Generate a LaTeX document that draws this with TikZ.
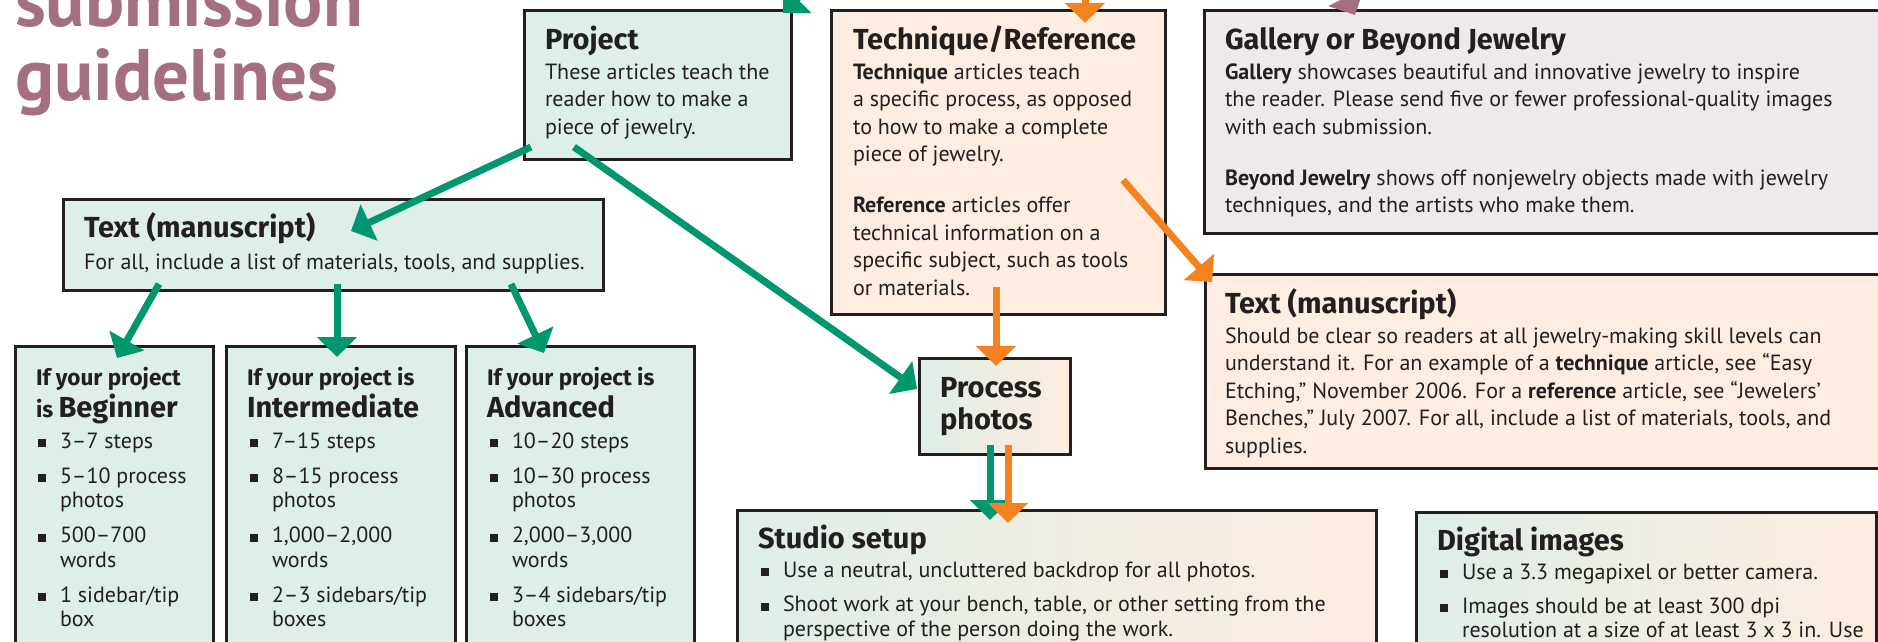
\documentclass[tikz,border=0pt]{standalone}
\usepackage{fontspec}
\setmainfont{PT Sans}
\newfontfamily\hfam{Fira Sans}
\usetikzlibrary{arrows.meta}
\definecolor{grn}{HTML}{009670}
\definecolor{org}{HTML}{F58220}
\definecolor{mauve}{HTML}{A46E83}
\definecolor{grnfill}{HTML}{DEEEE8}
\definecolor{peachfill}{HTML}{FEEDE0}
\definecolor{galfill}{HTML}{EFE9EC}
\definecolor{bordc}{HTML}{231F20}
\newcommand\bodyf{\fontsize{22}{27.5}\selectfont}
\newcommand\listf{\fontsize{22}{24.5}\selectfont}
\newcommand\headf{\fontsize{29}{30}\selectfont\hfam\bfseries}
\newcommand\smallhd{\fontsize{22.5}{24}\selectfont\hfam\bfseries}
\newcommand\bighd{\fontsize{29}{30}\selectfont\hfam\bfseries}
\newcommand\procf{\fontsize{29}{32}\selectfont\hfam\bfseries}
\newcommand\titlef{\fontsize{73}{72}\selectfont\bfseries}
\newcommand\bul{\makebox[0pt][r]{\rule[1pt]{8pt}{8pt}\hspace{14pt}}}
\newcommand\lns[1]{\parbox[t]{800pt}{\raggedright #1}}
\begin{document}
\begin{tikzpicture}[x=1pt,y=-1pt,
  box/.style={draw=bordc, line width=3pt, rectangle, anchor=north west, inner sep=0pt},
  tx/.style={anchor=base west, inner sep=0pt, outer sep=0pt, text=bordc},
  garrow/.style={draw=grn, fill=grn, line width=7pt, -{Triangle[length=20pt,width=39pt]}},
  oarrow/.style={draw=org, fill=org, line width=7pt, -{Triangle[length=20pt,width=39pt]}},
  marrow/.style={draw=mauve, fill=mauve, line width=7pt, -{Triangle[length=20pt,width=39pt]}}]
\useasboundingbox (0,0) rectangle (1878,642);
\clip (0,0) rectangle (1878,642);
\fill[white] (0,0) rectangle (1878,642);

% title
\node[tx, text=mauve, font=\titlef] (t1) at (15,27) {submission};
\node[tx, text=mauve, font=\titlef] (t2) at (15,100) {guidelines};

% boxes
\node[box, fill=grnfill, minimum width=267pt, minimum height=149pt] (proj) at (523,9) {};
\node[box, fill=peachfill, minimum width=334pt, minimum height=304pt] (tech) at (830,9) {};
\node[box, fill=galfill, minimum width=697pt, minimum height=223pt] (gal) at (1203,9) {};
\node[box, fill=peachfill, minimum width=696pt, minimum height=194pt] (rtext) at (1204,273) {};
\node[box, fill=grnfill, minimum width=540pt, minimum height=91pt] (ltext) at (62,198) {};
\node[box, fill=grnfill, minimum width=198pt, minimum height=355pt] (beg) at (14,345) {};
\node[box, fill=grnfill, minimum width=229pt, minimum height=355pt] (inter) at (225,345) {};
\node[box, fill=grnfill, minimum width=228pt, minimum height=355pt] (adv) at (465,345) {};
\node[box, left color=grnfill, right color=peachfill, minimum width=151pt, minimum height=96pt] (proc) at (918,357) {};
\node[box, left color=grnfill, right color=peachfill, minimum width=639pt, minimum height=191pt] (studio) at (736,509) {};
\node[box, left color=grnfill, right color=peachfill, minimum width=460pt, minimum height=189pt] (digi) at (1415,511) {};

% project text
\node[tx, font=\headf] (projh) at (545,49) {Project};
\node[tx, font=\bodyf] (projb) at (545,79) {\lns{These articles teach the\\reader how to make a\\piece of jewelry.}};

% technique text
\node[tx, font=\headf] (techh) at (853,49) {Technique/Reference};
\node[tx, font=\bodyf] (techb) at (853,79) {\lns{\textbf{Technique} articles teach\\a specific process, as opposed\\to how to make a complete\\piece of jewelry.\\[23.5pt]\textbf{Reference} articles offer\\technical information on a\\specific subject, such as tools\\or materials.}};

% gallery text
\node[tx, font=\headf] (galh) at (1225,49) {Gallery or Beyond Jewelry};
\node[tx, font=\bodyf] (galb) at (1225,79) {\lns{\textbf{Gallery} showcases beautiful and innovative jewelry to inspire\\the reader. Please send five or fewer professional-quality images\\with each submission.\\[23.5pt]\textbf{Beyond Jewelry} shows off nonjewelry objects made with jewelry\\techniques, and the artists who make them.}};

% right text
\node[tx, font=\headf] (rtexth) at (1225,313) {Text (manuscript)};
\node[tx, font=\bodyf] (rtextb) at (1225,343) {\lns{Should be clear so readers at all jewelry-making skill levels can\\understand it. For an example of a \textbf{technique} article, see “Easy\\Etching,” November 2006. For a \textbf{reference} article, see “Jewelers’\\Benches,” July 2007. For all, include a list of materials, tools, and\\supplies.}};

% left text
\node[tx, font=\headf] (ltexth) at (84,237) {Text (manuscript)};
\node[tx, font=\bodyf] (ltextb) at (84,269) {For all, include a list of materials, tools, and supplies.};

% level boxes
\node[tx, font=\smallhd] (begh1) at (36,385) {If your project};
\node[tx, font=\smallhd] (begh2) at (36,417) {is \bighd Beginner};
\node[tx, font=\listf] (begb) at (60,448) {\lns{\bul 3–7 steps\\[10.5pt]\bul 5–10 process\\photos\\[10.5pt]\bul 500–700\\words\\[10.5pt]\bul 1 sidebar/tip\\box}};
\node[tx, font=\smallhd] (inth1) at (247,385) {If your project is};
\node[tx, font=\bighd] (inth2) at (247,417) {Intermediate};
\node[tx, font=\listf] (intb) at (272,448) {\lns{\bul 7–15 steps\\[10.5pt]\bul 8–15 process\\photos\\[10.5pt]\bul 1,000–2,000\\words\\[10.5pt]\bul 2–3 sidebars/tip\\boxes}};
\node[tx, font=\smallhd] (advh1) at (487,385) {If your project is};
\node[tx, font=\bighd] (advh2) at (487,417) {Advanced};
\node[tx, font=\listf] (advb) at (512,448) {\lns{\bul 10–20 steps\\[10.5pt]\bul 10–30 process\\photos\\[10.5pt]\bul 2,000–3,000\\words\\[10.5pt]\bul 3–4 sidebars/tip\\boxes}};

% process
\node[tx, font=\procf] (proct) at (940,397) {\lns{Process\\photos}};

% studio
\node[tx, font=\headf] (studh) at (758,548) {Studio setup};
\node[tx, font=\listf] (studb) at (783,577) {\lns{\bul Use a neutral, uncluttered backdrop for all photos.\\[10pt]\bul Shoot work at your bench, table, or other setting from the\\perspective of the person doing the work.}};

% digital
\node[tx, font=\headf] (digh) at (1437,550) {Digital images};
\node[tx, font=\listf] (digb) at (1462,579) {\lns{\bul Use a 3.3 megapixel or better camera.\\[9.5pt]\bul Images should be at least 300 dpi\\resolution at a size of at least 3 x 3 in. Use}};

% connector ends
\coordinate (g1s) at (823,-27); \coordinate (g1e) at (783,13);
\coordinate (o1s) at (1085,-30); \coordinate (o1e) at (1085,23);
\coordinate (m1s) at (1330,-35); \coordinate (m1e) at (1355,15);
\coordinate (g2s) at (531,147); \coordinate (g2e) at (351,231);
\coordinate (g3s) at (574,147); \coordinate (g3e) at (917,389);
\coordinate (o2s) at (1123,180); \coordinate (o2e) at (1212,282);
\coordinate (o3s) at (996,287); \coordinate (o3e) at (996,366);
\coordinate (g4s) at (159,284); \coordinate (g4e) at (117,358);
\coordinate (g5s) at (337,284); \coordinate (g5e) at (337,357);
\coordinate (g6s) at (511,284); \coordinate (g6e) at (544,353);
\coordinate (g7s) at (990,445); \coordinate (g7e) at (990,520);
\coordinate (o4s) at (1008,445); \coordinate (o4e) at (1008,523);

\draw[garrow] (g1s) -- (g1e);
\draw[oarrow] (o1s) -- (o1e);
\draw[marrow] (m1s) -- (m1e);
\draw[garrow] (g2s) -- (g2e);
\draw[garrow] (g3s) -- (g3e);
\draw[oarrow] (o2s) -- (o2e);
\draw[oarrow] (o3s) -- (o3e);
\draw[garrow] (g4s) -- (g4e);
\draw[garrow] (g5s) -- (g5e);
\draw[garrow] (g6s) -- (g6e);
\draw[garrow] (g7s) -- (g7e);
\draw[oarrow] (o4s) -- (o4e);
\end{tikzpicture}
\end{document}
